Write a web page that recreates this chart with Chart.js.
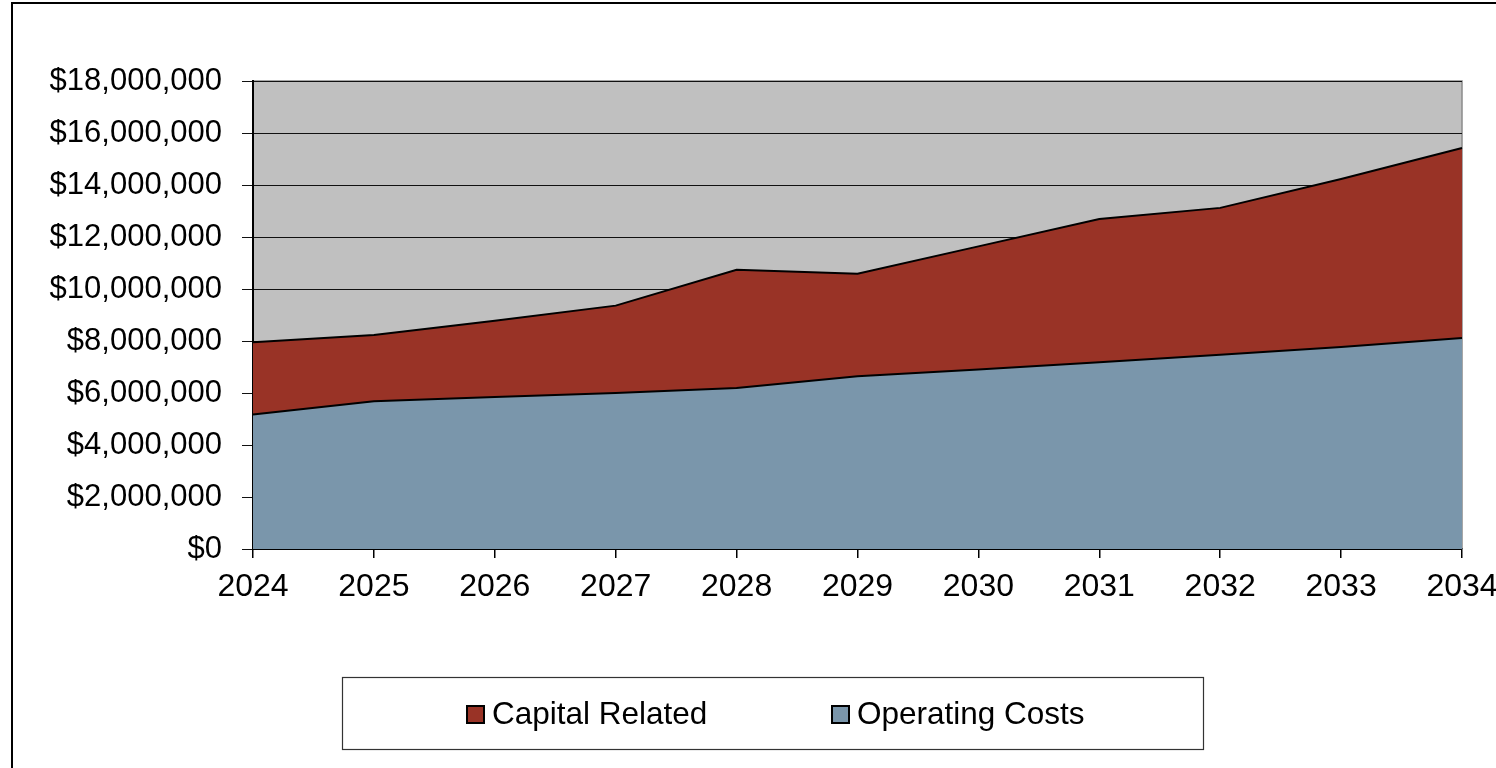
<!DOCTYPE html>
<html>
<head>
<meta charset="utf-8">
<script src="https://cdn.jsdelivr.net/npm/chart.js@4/dist/chart.umd.min.js"></script>
<style>
  html, body { margin: 0; padding: 0; background: #ffffff; }
  #wrap { width: 1496px; height: 768px; }
</style>
</head>
<body>
<div id="wrap"><canvas id="cost" width="1496" height="768"></canvas></div>
<script>
// Annual cost projection, stacked by component
const years = ['2024', '2025', '2026', '2027', '2028', '2029', '2030', '2031', '2032', '2033', '2034'];
const operatingCosts = [5170000, 5680000, 5850000, 6000000, 6190000, 6640000, 6900000, 7180000, 7470000, 7770000, 8120000];
const capitalRelated = [2780000, 2550000, 2930000, 3360000, 4550000, 3950000, 4740000, 5510000, 5650000, 6460000, 7300000];
const yTicks = [0, 2000000, 4000000, 6000000, 8000000, 10000000, 12000000, 14000000, 16000000, 18000000];

const FONT = '"Liberation Sans", Arial, sans-serif';
const RED = '#993326';
const BLUE = '#7A96AB';

const money = v => '$' + Number(v).toLocaleString('en-US');

// Outer frame, grey plot background and the boxed legend
const decor = {
  id: 'decor',
  beforeDraw(chart) {
    const { ctx, chartArea: a } = chart;
    ctx.save();
    ctx.fillStyle = '#ffffff';
    ctx.fillRect(0, 0, chart.width, chart.height);
    ctx.fillStyle = '#C0C0C0';
    ctx.fillRect(a.left, a.top, a.right - a.left, a.bottom - a.top);
    ctx.strokeStyle = '#8a8a8a';
    ctx.lineWidth = 1.5;
    ctx.beginPath();
    ctx.moveTo(a.left, a.top);
    ctx.lineTo(a.right, a.top);
    ctx.lineTo(a.right, a.bottom);
    ctx.stroke();
    ctx.restore();
  },
  afterDraw(chart) {
    const { ctx } = chart;
    ctx.save();
    // chart frame
    ctx.strokeStyle = '#000000';
    ctx.lineWidth = 2;
    ctx.strokeRect(12, 3, chart.width + 20, chart.height + 20);
    // legend box
    ctx.strokeStyle = '#333333';
    ctx.lineWidth = 1.2;
    ctx.strokeRect(342.5, 677.5, 861, 72);
    // legend entries, listed top series first
    const items = chart.data.datasets.slice().reverse();
    const xs = [467, 832];
    ctx.font = '31.5px ' + FONT;
    ctx.textBaseline = 'alphabetic';
    ctx.textAlign = 'left';
    items.forEach((ds, i) => {
      const x = xs[i];
      ctx.fillStyle = ds.backgroundColor;
      ctx.fillRect(x, 706, 17, 17);
      ctx.strokeStyle = '#000000';
      ctx.lineWidth = 2;
      ctx.strokeRect(x, 706, 17, 17);
      ctx.fillStyle = '#000000';
      ctx.fillText(ds.label, x + 25, 724);
    });
    ctx.restore();
  }
};

new Chart(document.getElementById('cost'), {
  type: 'line',
  data: {
    labels: years,
    datasets: [
      {
        label: 'Operating Costs',
        data: operatingCosts,
        backgroundColor: BLUE,
        borderColor: '#000000',
        borderWidth: 2,
        fill: 'origin',
        pointRadius: 0,
        tension: 0
      },
      {
        label: 'Capital Related',
        data: capitalRelated,
        backgroundColor: RED,
        borderColor: '#000000',
        borderWidth: 2,
        fill: '-1',
        pointRadius: 0,
        tension: 0
      }
    ]
  },
  options: {
    responsive: false,
    devicePixelRatio: 1,
    animation: false,
    layout: { padding: { left: 0, top: 81, right: 34, bottom: 159 } },
    plugins: {
      legend: { display: false },
      tooltip: { enabled: false }
    },
    scales: {
      x: {
        offset: false,
        grid: { display: true, drawOnChartArea: false, color: '#000000', tickLength: 9, lineWidth: 1.5 },
        border: { display: true, color: '#000000', width: 2 },
        ticks: { color: '#000000', font: { family: FONT, size: 32 }, padding: 10, maxRotation: 0, autoSkip: false },
        afterFit(s) { s.height = 60; s.paddingLeft = 0; s.paddingRight = 0; }
      },
      y: {
        stacked: true,
        min: 0,
        max: 18000000,
        afterBuildTicks(s) { s.ticks = yTicks.map(v => ({ value: v })); },
        grid: { color: '#111111', lineWidth: 1, tickLength: 11 },
        border: { display: true, color: '#000000', width: 2 },
        ticks: { color: '#000000', font: { family: FONT, size: 31 }, padding: 20, callback: v => money(v) },
        afterFit(s) { s.width = 253; }
      }
    }
  },
  plugins: [decor]
});
</script>
</body>
</html>
